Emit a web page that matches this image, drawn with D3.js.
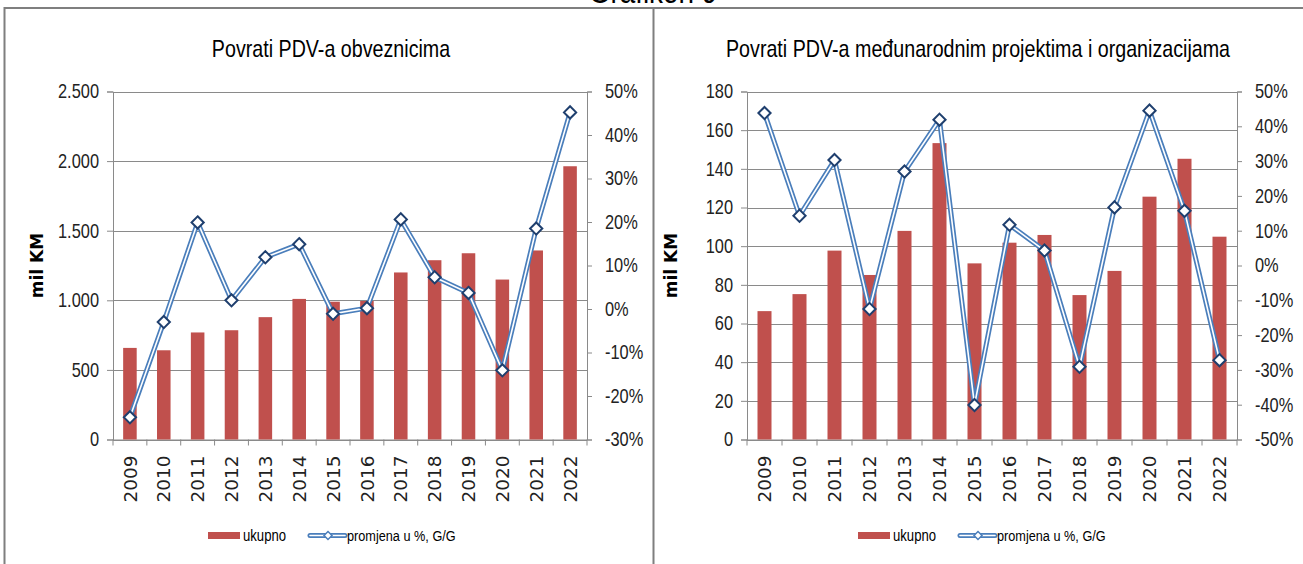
<!DOCTYPE html>
<html>
<head>
<meta charset="utf-8">
<script src="https://cdn.jsdelivr.net/npm/d3@7"></script>
<style>
  body { margin: 0; background: #fff; }
  svg { display: block; }
</style>
</head>
<body>
<svg id="chart" width="1303" height="564"></svg>
<script>
/* eslint-disable no-undef */
const years = ['2009', '2010', '2011', '2012', '2013', '2014', '2015', '2016', '2017', '2018', '2019', '2020', '2021', '2022']

// Povrati PDV-a obveznicima (mil KM i % promjena)
const ukupnoObveznici = [658, 641, 769, 785, 879, 1010, 990, 995, 1200, 1288, 1338, 1149, 1358, 1963]
const promjenaObveznici = [-24.9, -3.0, 19.9, 2.0, 11.9, 14.9, -1.1, 0.2, 20.6, 7.3, 3.7, -14.1, 18.5, 45.2]
const ticksObveznici = [0, 500, 1000, 1500, 2000, 2500]
const ticksPostoObveznici = [-30, -20, -10, 0, 10, 20, 30, 40, 50]

// Povrati PDV-a medjunarodnim projektima i organizacijama
const ukupnoProjekti = [66.4, 75.2, 97.7, 85.1, 107.9, 153.3, 91.1, 101.8, 105.8, 74.7, 87.2, 125.6, 145.2, 104.9]
const promjenaProjekti = [43.8, 14.3, 30.3, -12.5, 27.0, 41.9, -40.1, 11.7, 4.3, -29.1, 16.7, 44.5, 15.7, -27.2]
const ticksProjekti = [0, 20, 40, 60, 80, 100, 120, 140, 160, 180]
const ticksPostoProjekti = [-50, -40, -30, -20, -10, 0, 10, 20, 30, 40, 50]

const svg = d3.select('#chart')
const sans = '"Liberation Sans", Arial, sans-serif'
const SQ = 0.82 // uski font (kao Calibri)
const barColor = '#C0504D'
const lineColor = '#4A7EBB'
const markerColor = '#1F3F6E'
const gridColor = '#8a8a8a'

const kmFormat = d3.formatLocale({ decimal: ',', thousands: '.', grouping: [3], currency: ['', ''] }).format(',')

// suzi tekst vodoravno, x pozicija ostaje ista
function squeeze (sel) {
  sel.each(function () {
    const t = d3.select(this)
    const x0 = +t.attr('x') || 0
    t.attr('x', x0 / SQ).attr('transform', `scale(${SQ},1)`)
  })
}

function narrowText (parent, x, y, size, str, anchor) {
  return parent.append('text')
    .attr('transform', `translate(${x},${y}) scale(${SQ},1)`)
    .attr('text-anchor', anchor || 'start')
    .style('font-family', sans).style('font-size', size + 'px')
    .text(str)
}

// okviri
narrowText(svg, 653, 3, 34, 'Grafikon 9', 'middle')

svg.append('path')
  .attr('d', 'M4.5,564 V8 H1303 M653.5,8 V564')
  .attr('fill', 'none')
  .attr('stroke', '#7f7f7f')
  .attr('stroke-width', 2)

function drawPanel (opt) {
  const g = svg.append('g')
  const top = 91.5
  const bottom = 439.5

  const x = d3.scaleBand()
    .domain(years)
    .range([opt.left, opt.right])
    .paddingInner(0.6)
    .paddingOuter(0.3)

  const y = d3.scaleLinear().domain(d3.extent(opt.ticks)).range([bottom, top])
  const y2 = d3.scaleLinear().domain(d3.extent(opt.ticks2)).range([bottom, top])

  narrowText(g, opt.titleX, 57, 24, opt.title, 'middle')

  // mreza
  g.append('g')
    .selectAll('line')
    .data(opt.ticks)
    .enter().append('line')
    .attr('x1', opt.left).attr('x2', opt.right)
    .attr('y1', d => Math.round(y(d)) + 0.5).attr('y2', d => Math.round(y(d)) + 0.5)
    .attr('stroke', gridColor)

  // lijeva os
  const yAxis = g.append('g')
    .attr('transform', `translate(${opt.left},0)`)
    .call(d3.axisLeft(y).tickValues(opt.ticks).tickFormat(opt.format).tickSize(6).tickPadding(8))
  yAxis.select('.domain').attr('stroke', gridColor)
  yAxis.selectAll('line').attr('stroke', gridColor)
  yAxis.selectAll('text').style('font-family', sans).style('font-size', '20px').attr('fill', '#222').call(squeeze)

  // desna os
  const y2Axis = g.append('g')
    .attr('transform', `translate(${opt.right},0)`)
    .call(d3.axisRight(y2).tickValues(opt.ticks2).tickFormat(d => d + '%').tickSize(5).tickPadding(13))
  y2Axis.select('.domain').attr('stroke', gridColor)
  y2Axis.selectAll('line').attr('stroke', gridColor)
  y2Axis.selectAll('text').style('font-family', sans).style('font-size', '20px').attr('fill', '#222').call(squeeze)

  // x os
  const xAxis = g.append('g')
    .attr('transform', `translate(0,${bottom})`)
    .call(d3.axisBottom(x).tickSize(0).tickPadding(0))
  xAxis.select('.domain').attr('stroke', gridColor)
  xAxis.selectAll('text')
    .attr('transform', 'rotate(-90)')
    .attr('x', -16).attr('y', 0).attr('dy', '0.36em')
    .style('text-anchor', 'end')
    .style('font-family', '"DejaVu Sans", Verdana, sans-serif')
    .style('font-size', '18.5px')
    .attr('fill', '#222')
  const step = x.step()
  g.append('g')
    .selectAll('line')
    .data(d3.range(years.length + 1))
    .enter().append('line')
    .attr('x1', i => opt.left + i * step).attr('x2', i => opt.left + i * step)
    .attr('y1', bottom).attr('y2', bottom + 6)
    .attr('stroke', gridColor)

  g.append('text')
    .attr('transform', `translate(${opt.left - 70},${(top + bottom) / 2}) rotate(-90)`)
    .attr('text-anchor', 'middle')
    .style('font-family', '"DejaVu Sans", Verdana, sans-serif')
    .style('font-weight', 'bold').style('font-size', '17px')
    .text('mil KM')

  // stupci
  g.append('g')
    .selectAll('rect')
    .data(opt.bars)
    .enter().append('rect')
    .attr('x', (d, i) => x(years[i]))
    .attr('width', x.bandwidth())
    .attr('y', d => y(d))
    .attr('height', d => bottom - y(d))
    .attr('fill', barColor)

  // linija promjene
  const line = d3.line()
    .x((d, i) => x(years[i]) + x.bandwidth() / 2)
    .y(d => y2(d))
  g.append('path').datum(opt.pct).attr('d', line)
    .attr('fill', 'none').attr('stroke', lineColor).attr('stroke-width', 5).attr('stroke-linejoin', 'round')
  g.append('path').datum(opt.pct).attr('d', line)
    .attr('fill', 'none').attr('stroke', '#fff').attr('stroke-width', 1.6).attr('stroke-linejoin', 'round')

  const diamond = d3.symbol().type(d3.symbolDiamond2).size(95)
  g.append('g')
    .selectAll('path')
    .data(opt.pct)
    .enter().append('path')
    .attr('d', diamond)
    .attr('transform', (d, i) => `translate(${x(years[i]) + x.bandwidth() / 2},${y2(d)})`)
    .attr('fill', '#fff')
    .attr('stroke', markerColor)
    .attr('stroke-width', 2)

  // legenda
  const lg = g.append('g').attr('transform', `translate(${opt.legendX},535.5)`)
  lg.append('rect').attr('x', 0).attr('y', -3.5).attr('width', 32).attr('height', 7).attr('fill', barColor)
  narrowText(lg, 35, 5.5, 16, 'ukupno')
  lg.append('line').attr('x1', 102).attr('x2', 137).attr('y1', 0).attr('y2', 0)
    .attr('stroke', lineColor).attr('stroke-width', 5).attr('stroke-linecap', 'round')
  lg.append('line').attr('x1', 102).attr('x2', 137).attr('y1', 0).attr('y2', 0)
    .attr('stroke', '#fff').attr('stroke-width', 1.6).attr('stroke-linecap', 'round')
  lg.append('path').attr('d', d3.symbol().type(d3.symbolDiamond2).size(40))
    .attr('transform', 'translate(120,0)')
    .attr('fill', '#fff').attr('stroke', lineColor).attr('stroke-width', 1.5)
  narrowText(lg, 139, 5.5, 15.5, 'promjena u %, G/G')
}

drawPanel({
  title: 'Povrati PDV-a obveznicima',
  titleX: 331,
  left: 113,
  right: 587,
  ticks: ticksObveznici,
  ticks2: ticksPostoObveznici,
  format: kmFormat,
  bars: ukupnoObveznici,
  pct: promjenaObveznici,
  legendX: 208
})

drawPanel({
  title: 'Povrati PDV-a međunarodnim projektima i organizacijama',
  titleX: 978,
  left: 747,
  right: 1237,
  ticks: ticksProjekti,
  ticks2: ticksPostoProjekti,
  format: d3.format('d'),
  bars: ukupnoProjekti,
  pct: promjenaProjekti,
  legendX: 858
})
</script>
</body>
</html>
